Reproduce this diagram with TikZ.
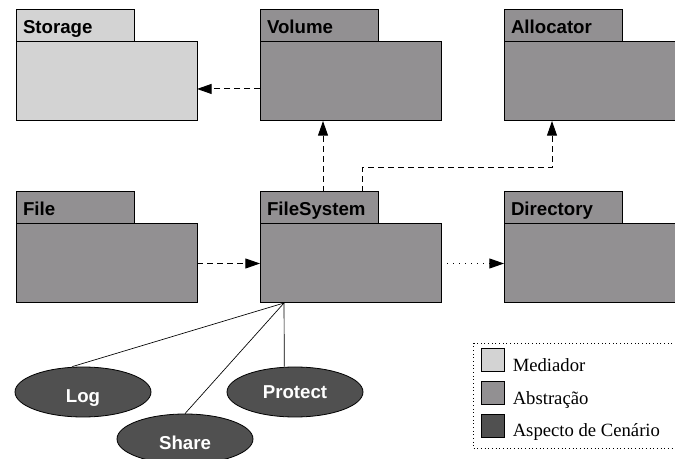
\documentclass[tikz,border=0pt]{standalone}
\usepackage{fontspec}
\setmainfont{Liberation Serif}
\setsansfont{Liberation Sans}
\usepackage{tikz}
\usetikzlibrary{arrows.meta,positioning,shapes.geometric}
\definecolor{mediador}{HTML}{D3D3D3}
\definecolor{abstracao}{HTML}{929092}
\definecolor{cenario}{HTML}{505050}
\tikzset{
    every picture/.style={line join=miter},
    pkgtab/.style={draw=black,line width=0.75pt,anchor=north west,
      minimum height=24pt,text width=78pt,inner xsep=5.25pt,inner ysep=0pt,
      text height=12pt,text depth=0pt,
      outer sep=0pt,align=left,font=\sffamily\bfseries\fontsize{14}{16}\selectfont},
    pkgbody/.style={draw=black,line width=0.75pt,minimum width=135.75pt,
      minimum height=59.25pt,inner sep=0pt,outer sep=0pt},
    aspect/.style={ellipse,draw=black,line width=0.6pt,fill=cenario,
      minimum width=102pt,minimum height=37.5pt,inner sep=0pt,text=white,
      font=\sffamily\bfseries\fontsize{14}{16}\selectfont},
    lowtext/.style={text height=16pt,text depth=0pt},
    swatch/.style={draw=black,line width=0.75pt,minimum size=17.25pt,inner sep=0pt},
    legtext/.style={anchor=base west,inner sep=0pt,font=\fontsize{14}{16}\selectfont},
    dep/.style={-{Triangle[length=11pt,width=7.5pt]},line width=0.75pt,
      dash pattern=on 4.5pt off 3pt},
    dotdep/.style={-{Triangle[length=11pt,width=7.5pt]},line width=0.75pt,
      dash pattern=on 0.75pt off 3.75pt}
}
\begin{document}
\begin{tikzpicture}[x=0.75pt,y=-0.75pt]
  \useasboundingbox (0,0) rectangle (675,459);
  \clip (0,0) rectangle (675,459);
  % packages
  \node[pkgtab,fill=mediador] (stoTab) at (16,10) {Storage};
  \node[pkgbody,fill=mediador,below right=0pt and 0pt of stoTab.south west] (stoBox) {};
  \node[pkgtab,fill=abstracao] (volTab) at (260,10) {Volume};
  \node[pkgbody,fill=abstracao,below right=0pt and 0pt of volTab.south west] (volBox) {};
  \node[pkgtab,fill=abstracao] (allocTab) at (504,10) {Allocator};
  \node[pkgbody,fill=abstracao,below right=0pt and 0pt of allocTab.south west] (allocBox) {};
  \node[pkgtab,fill=abstracao] (fileTab) at (16,192) {File};
  \node[pkgbody,fill=abstracao,below right=0pt and 0pt of fileTab.south west] (fileBox) {};
  \node[pkgtab,fill=abstracao] (fsTab) at (260,192) {FileSystem};
  \node[pkgbody,fill=abstracao,below right=0pt and 0pt of fsTab.south west] (fsBox) {};
  \node[pkgtab,fill=abstracao] (dirTab) at (504,192) {Directory};
  \node[pkgbody,fill=abstracao,below right=0pt and 0pt of dirTab.south west] (dirBox) {};
  % dependencies
  \draw[dep] ([yshift=-5.6pt]volBox.west) -- ([yshift=-5.6pt]stoBox.east);
  \draw[dep] ([xshift=3pt]fsTab.north) -- ([xshift=3pt]fsTab.north |- volBox.south);
  \draw[dep] ([xshift=-12pt]fsTab.north east) -- ++(0,18pt) -| ([xshift=36pt]allocBox.south west);
  \draw[dep] (fileBox.east) -- (fsBox.west);
  \draw[dotdep] (fsBox.east) -- (dirBox.west);
  % aspects
  \node[aspect,lowtext] (log) at (83,392) {Log};
  \node[aspect,lowtext] (share) at (185,439) {Share};
  \node[aspect] (protect) at (295,392) {Protect};
  \coordinate (hub) at ([xshift=18pt]fsBox.south west);
  \draw[line width=0.5pt] (hub) -- ([xshift=-8pt]log.north);
  \draw[line width=0.5pt] (hub) -- (share.north);
  \draw[line width=0.5pt] (hub) -- ([xshift=-8pt]protect.north);
  % legend
  \node[draw,dotted,line width=0.75pt,anchor=north west,minimum width=163pt,
    minimum height=78.75pt,inner sep=0pt] (legend) at (473,343) {};
  \node[swatch,fill=mediador] (swMed) at (492.5,360.5) {};
  \node[swatch,fill=abstracao,below=6.5pt of swMed] (swAbs) {};
  \node[swatch,fill=cenario,below=6.5pt of swAbs] (swCen) {};
  \node[legtext] (txtMed) at ([xshift=6pt,yshift=0.75pt]swMed.south east) {Mediador};
  \node[legtext] (txtAbs) at ([xshift=6pt,yshift=0.75pt]swAbs.south east) {Abstração};
  \node[legtext] (txtCen) at ([xshift=6pt,yshift=0.75pt]swCen.south east) {Aspecto de Cenário};
\end{tikzpicture}
\end{document}
